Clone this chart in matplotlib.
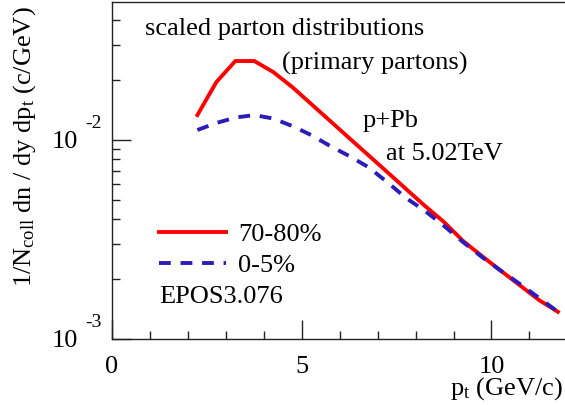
import numpy as np
import matplotlib
matplotlib.use("Agg")
import matplotlib.pyplot as plt
from matplotlib.transforms import ScaledTranslation

plt.rcParams['font.family'] = ['Liberation Serif', 'DejaVu Serif']
plt.rcParams['mathtext.fontset'] = 'custom'
plt.rcParams['mathtext.rm'] = 'Liberation Serif'
plt.rcParams['mathtext.it'] = 'Liberation Serif:italic'
plt.rcParams['lines.scale_dashes'] = False

# data
pt = [2.25, 2.75, 3.25, 3.75, 4.25, 4.75, 5.25, 5.75, 6.25, 6.75,
      7.25, 7.75, 8.25, 8.75, 9.25, 9.75, 10.25, 10.75, 11.25, 11.75]
peripheral = [0.01335, 0.01956, 0.02495, 0.02495, 0.02196, 0.01846, 0.01517, 0.01246,
              0.01023, 0.00841, 0.00691, 0.00567, 0.00466, 0.00387, 0.00311, 0.00261,
              0.00220, 0.00186, 0.00157, 0.00137]
central = [0.01123, 0.01218, 0.01297, 0.01335, 0.01282, 0.01176, 0.01059, 0.00933,
           0.00831, 0.00732, 0.00615, 0.00511, 0.00440, 0.00370, 0.00307, 0.00258,
           0.00220, 0.00189, 0.00161, 0.00137]
labels = ["70-80%", "0-5%"]
xticks = [0, 5, 10]
xticklabels = ["0", "5", "10"]
yticks = [1e-3, 1e-2]
yexp = ["-3", "-2"]

W, H = 565, 405
fig = plt.figure(figsize=(W / 100, H / 100), dpi=100)
ax = fig.add_axes([112 / W, 66 / H, 455.4 / W, 337 / H])

ax.plot(pt, peripheral, color='#ff0000', lw=2.8, label=labels[0], solid_joinstyle='miter')
ax.plot(pt, central, color='#2b1db8', lw=2.8, dashes=(8.5, 7.0), label=labels[1])

ax.set_yscale('log')
ax.set_xlim(0, 12)
ax.set_ylim(1e-3, 0.0494)

for s in ax.spines.values():
    s.set_linewidth(1.0)
    s.set_color('#222222')

ax.set_xticks(xticks)
ax.set_xticklabels(xticklabels, fontsize=19)
ax.set_xticks(np.arange(1, 12), minor=True)
ax.tick_params(axis='x', which='major', direction='in', length=14, width=1, pad=12, color='#222222')
ax.tick_params(axis='x', which='minor', direction='in', length=6, width=1, color='#222222')
ax.tick_params(axis='y', which='major', direction='in', length=14, width=1, color='#222222')
ax.tick_params(axis='y', which='minor', direction='in', length=6, width=1, color='#222222')
ax.set_yticks(yticks)
ax.set_yticklabels([])
ax.yaxis.set_minor_formatter(matplotlib.ticker.NullFormatter())

ytr = ax.get_yaxis_transform()
for v, e in zip(yticks, yexp):
    ax.text(0, v, "10", transform=ytr + ScaledTranslation(-0.34, -0.02, fig.dpi_scale_trans),
            ha='right', va='center', fontsize=19, clip_on=False)
    ax.text(0, v, e, transform=ytr + ScaledTranslation(-0.27, 0.08, fig.dpi_scale_trans),
            ha='left', va='bottom', fontsize=14, clip_on=False)

fig.text(25 / W, 1 - 147 / H, r"1/N$_{\mathrm{coll}}$ dn / dy dp$_{\mathrm{t}}$ (c/GeV)",
         rotation=90, ha='center', va='center', fontsize=19)
fig.text(563 / W, 1 - 395 / H, r"p$_{\mathrm{t}}$ (GeV/c)", ha='right', va='baseline', fontsize=19)

fig.text(145 / W, 1 - 35 / H, "scaled parton distributions", ha='left', va='baseline', fontsize=19)
fig.text(282 / W, 1 - 70 / H, "(primary partons)", ha='left', va='baseline', fontsize=19)
fig.text(363 / W, 1 - 127 / H, "p+Pb", ha='left', va='baseline', fontsize=19)
fig.text(386 / W, 1 - 160 / H, "at 5.02TeV", ha='left', va='baseline', fontsize=19)
fig.text(159 / W, 1 - 303 / H, "EPOS3.076", ha='left', va='baseline', fontsize=19)

leg = ax.legend(loc='upper left', bbox_to_anchor=(47 / 455.4, 1 - 221 / 337), frameon=False,
                fontsize=19, handlelength=2.55, handletextpad=0.45, labelspacing=0.28,
                borderpad=0, borderaxespad=0)

fig.savefig("out.png", dpi=100)
